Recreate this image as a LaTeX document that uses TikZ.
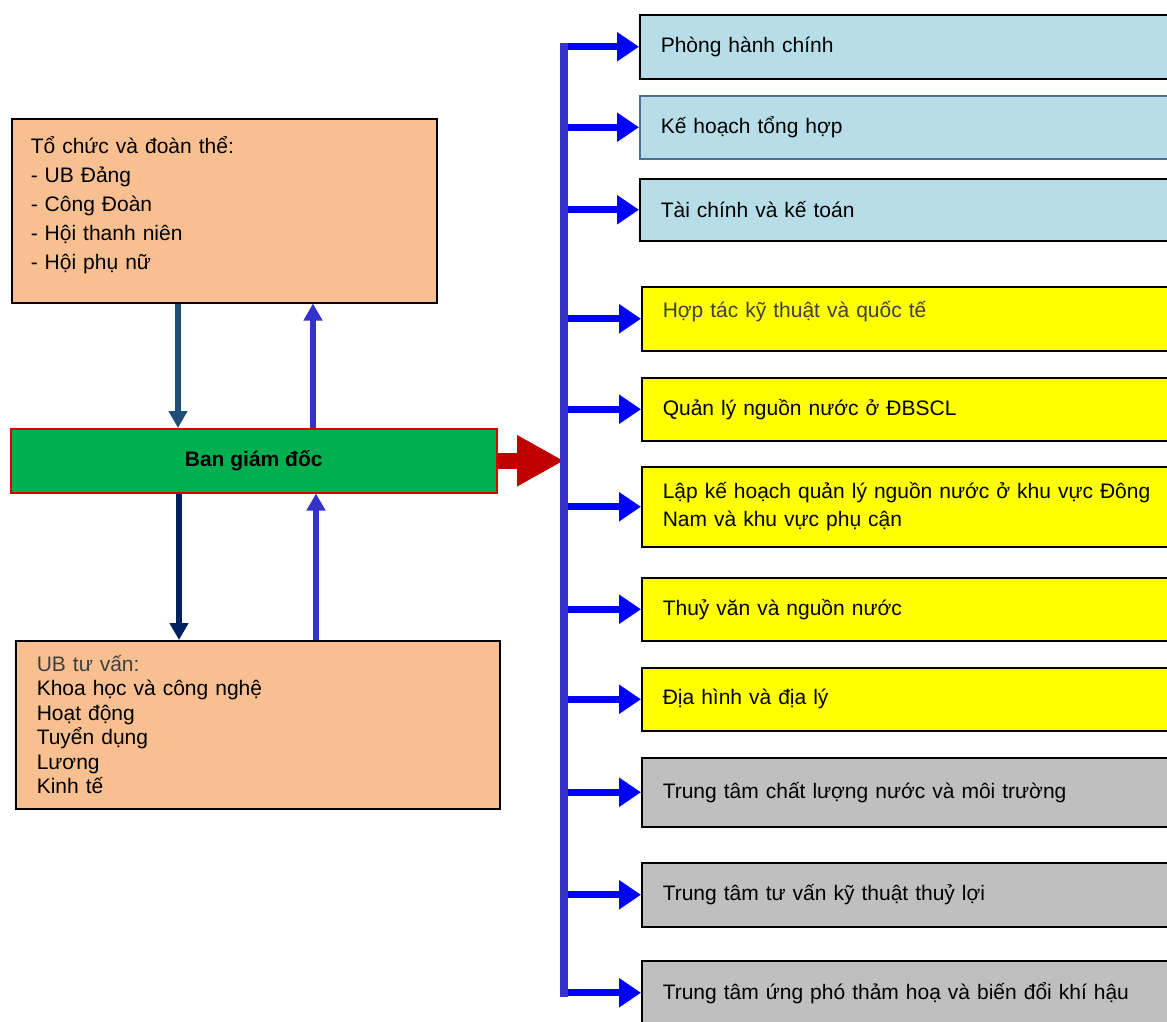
\documentclass[tikz,border=0pt]{standalone}
\usepackage{fontspec}
\setmainfont{Liberation Sans}
\usepackage{tikz}
\usetikzlibrary{arrows.meta,positioning,calc}
\definecolor{peach}{HTML}{F8C090}
\definecolor{pale}{HTML}{B7DEE8}
\definecolor{ylw}{HTML}{FFFF00}
\definecolor{grey}{HTML}{BFBFBF}
\definecolor{bgreen}{HTML}{00B050}
\definecolor{bred}{HTML}{C00000}
\definecolor{rim}{HTML}{D80000}
\definecolor{busblue}{HTML}{3333CC}
\definecolor{steel}{HTML}{1F4E79}
\definecolor{navy}{HTML}{002060}
\definecolor{txtgray}{HTML}{404040}
\tikzset{
  box/.style={draw=black,line width=1.5pt,anchor=north west,align=left,inner xsep=21pt,inner ysep=0pt},
  unit/.style={box,text width=518pt,font=\fontsize{21}{28}\selectfont},
  bunit/.style={unit,fill=pale},
  yunit/.style={unit,fill=ylw},
  gunit/.style={unit,fill=grey},
  arr/.style={line width=5.5pt,-{Triangle[length=17pt,width=18pt]}},
  branch/.style={draw=blue,line width=7pt,-{Triangle[length=22pt,width=28pt]}},
}

\begin{document}
\begin{tikzpicture}[x=1pt,y=-1pt]
\useasboundingbox (0,0) rectangle (1167,1021);
\clip (0,0) rectangle (1167,1021);

% left column
\node[box,fill=peach,minimum width=425pt,minimum height=184pt,text width=387pt,inner xsep=19pt,text depth=132pt,font=\fontsize{21}{29}\selectfont] (org) at (11,118) {Tổ chức và đoàn thể:\\- UB Đảng\\- Công Đoàn\\- Hội thanh niên\\- Hội phụ nữ};
\node[box,fill=bgreen,draw=rim,minimum width=486pt,minimum height=64pt,align=center,font=\fontsize{21}{25}\selectfont\bfseries] (board) at (10,428) {Ban giám đốc};
\node[box,fill=peach,minimum width=484pt,minimum height=168pt,text width=442pt,font=\fontsize{21}{24.5}\selectfont] (adv) at (15,640) {\textcolor{txtgray}{UB tư vấn:}\\Khoa học và công nghệ\\Hoạt động\\Tuyển dụng\\Lương\\Kinh tế};

\coordinate (c1) at (178,0);
\coordinate (c2) at (313,0);
\coordinate (c3) at (179,0);
\coordinate (c4) at (316,0);
\draw[arr,steel] (c1 |- org.south) -- (c1 |- board.north);
\draw[arr,busblue] (c2 |- board.north) -- (c2 |- org.south);
\draw[arr,navy] (c3 |- board.south) -- (c3 |- adv.north);
\draw[arr,busblue] (c4 |- adv.north) -- (c4 |- board.south);

% right column
\node[bunit,minimum height=64pt] (d1) at (639,14) {Phòng hành chính};
\node[bunit,draw=steel!80,minimum height=63pt] (d2) at (639,95) {Kế hoạch tổng hợp};
\node[bunit,minimum height=62pt] (d3) at (639,178) {Tài chính và kế toán};
\node[yunit,minimum height=64pt,text=txtgray,text depth=18pt] (d4) at (641,286) {Hợp tác kỹ thuật và quốc tế};
\node[yunit,minimum height=63pt] (d5) at (641,377) {Quản lý nguồn nước ở ĐBSCL};
\node[yunit,minimum height=80pt] (d6) at (641,466) {Lập kế hoạch quản lý nguồn nước ở khu vực Đông\\Nam và khu vực phụ cận};
\node[yunit,minimum height=63pt] (d7) at (641,577) {Thuỷ văn và nguồn nước};
\node[yunit,minimum height=63pt] (d8) at (641,667) {Địa hình và địa lý};
\node[gunit,minimum height=69pt] (d9) at (641,757) {Trung tâm chất lượng nước và môi trường};
\node[gunit,minimum height=64pt] (d10) at (641,862) {Trung tâm tư vấn kỹ thuật thuỷ lợi};
\node[gunit,minimum height=64pt] (d11) at (641,960) {Trung tâm ứng phó thảm hoạ và biến đổi khí hậu};

\coordinate (bus) at (564,0);
\draw[bred,line width=16pt,-{Triangle[length=47pt,width=48pt]}] (board.east) -- (bus |- board.east);
\foreach \i in {1,...,11}
  \draw[branch] (bus |- d\i.west) -- (d\i.west);
\draw[busblue,line width=8pt,line cap=rect] (bus |- d1.west) -- (bus |- d11.west);
\end{tikzpicture}
\end{document}
